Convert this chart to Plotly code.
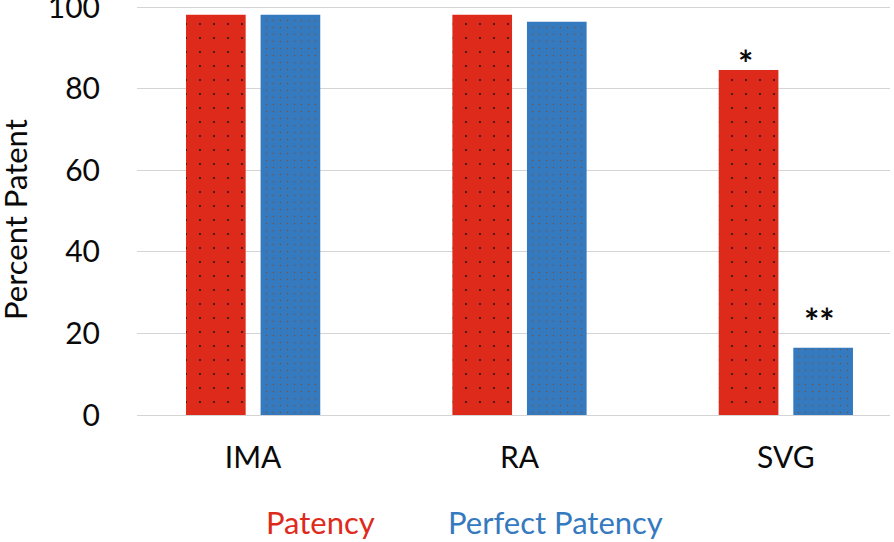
import plotly.graph_objects as go

categories = ["IMA", "RA", "SVG"]
patency = [98.1, 98.1, 84.6]
perfect_patency = [98.1, 96.4, 16.5]
series_names = ["Patency", "Perfect Patency"]
y_ticks = [0, 20, 40, 60, 80, 100]
markers_patency = ["", "", "*"]
markers_perfect = ["", "", "**"]

RED = "#DE2A1B"
BLUE = "#3579BF"
FONT = "Lato"
TXT = "#0A0A0A"

fig = go.Figure()
fig.add_trace(go.Bar(x=categories, y=patency, name=series_names[0],
                     marker=dict(color=RED, line=dict(width=0),
                                 pattern=dict(shape=".", size=14, solidity=0.02,
                                              fgcolor="#2a1a10", bgcolor=RED, fillmode="replace"))))
fig.add_trace(go.Bar(x=categories, y=perfect_patency, name=series_names[1],
                     marker=dict(color=BLUE, line=dict(width=0),
                                 pattern=dict(shape=".", size=7, solidity=0.03,
                                              fgcolor="#7a5238", bgcolor=BLUE, fillmode="replace"))))

annotations = []
for i, c in enumerate(categories):
    if markers_patency[i]:
        annotations.append(dict(x=c, y=patency[i], xref="x", yref="y", text="<b>%s</b>" % markers_patency[i],
                                showarrow=False, xshift=-40, yshift=-17, yanchor="bottom",
                                font=dict(family=FONT, size=36, color=TXT)))
    if markers_perfect[i]:
        annotations.append(dict(x=c, y=perfect_patency[i], xref="x", yref="y", text="<b>%s</b>" % markers_perfect[i],
                                showarrow=False, xshift=34, yshift=3, yanchor="bottom",
                                font=dict(family=FONT, size=36, color=TXT)))

PLOT_TOP, PLOT_BOTTOM = 3, 415
PH = PLOT_BOTTOM - PLOT_TOP
PL, PR = 137, 890
PW = PR - PL

def py(pix):
    return (PLOT_BOTTOM - pix) / PH

def px(pix):
    return (pix - PL) / PW

annotations.append(dict(x=0, y=py(220), xref="paper", yref="paper", xshift=15 - PL, text="Percent Patent",
                        textangle=-90, showarrow=False, xanchor="center", yanchor="middle",
                        font=dict(family=FONT, size=31, color=TXT)))
annotations.append(dict(x=px(320), y=py(522), xref="paper", yref="paper", text=series_names[0],
                        showarrow=False, xanchor="center", yanchor="middle",
                        font=dict(family=FONT, size=31, color=RED)))
annotations.append(dict(x=px(555), y=py(522), xref="paper", yref="paper", text=series_names[1],
                        showarrow=False, xanchor="center", yanchor="middle",
                        font=dict(family=FONT, size=31, color=BLUE)))

fig.update_layout(
    width=894, height=542,
    margin=dict(l=PL, r=894 - PR, t=PLOT_TOP, b=542 - PLOT_BOTTOM, autoexpand=False),
    paper_bgcolor="white", plot_bgcolor="white",
    barmode="group", bargap=0.44, bargroupgap=0.2,
    showlegend=False,
    font=dict(family=FONT, size=30, color=TXT),
    annotations=annotations,
)
fig.update_xaxes(range=[-0.436, 2.391], showgrid=False, showline=False, ticks="", automargin=False,
                 tickfont=dict(family=FONT, size=30, color=TXT), ticklabelstandoff=22)
fig.update_yaxes(range=[0, 101], tickvals=y_ticks, showgrid=True, gridcolor="#D4D4D4", gridwidth=1.3,
                 zeroline=True, zerolinecolor="#D4D4D4", zerolinewidth=1.3, showline=False, ticks="",
                 automargin=False, ticklabeloverflow="allow",
                 tickfont=dict(family=FONT, size=30, color=TXT), ticklabelstandoff=36)

fig.write_html("out.html", config={"displayModeBar": False},
               post_script="document.body.style.margin='0';document.body.style.overflow='hidden';")
